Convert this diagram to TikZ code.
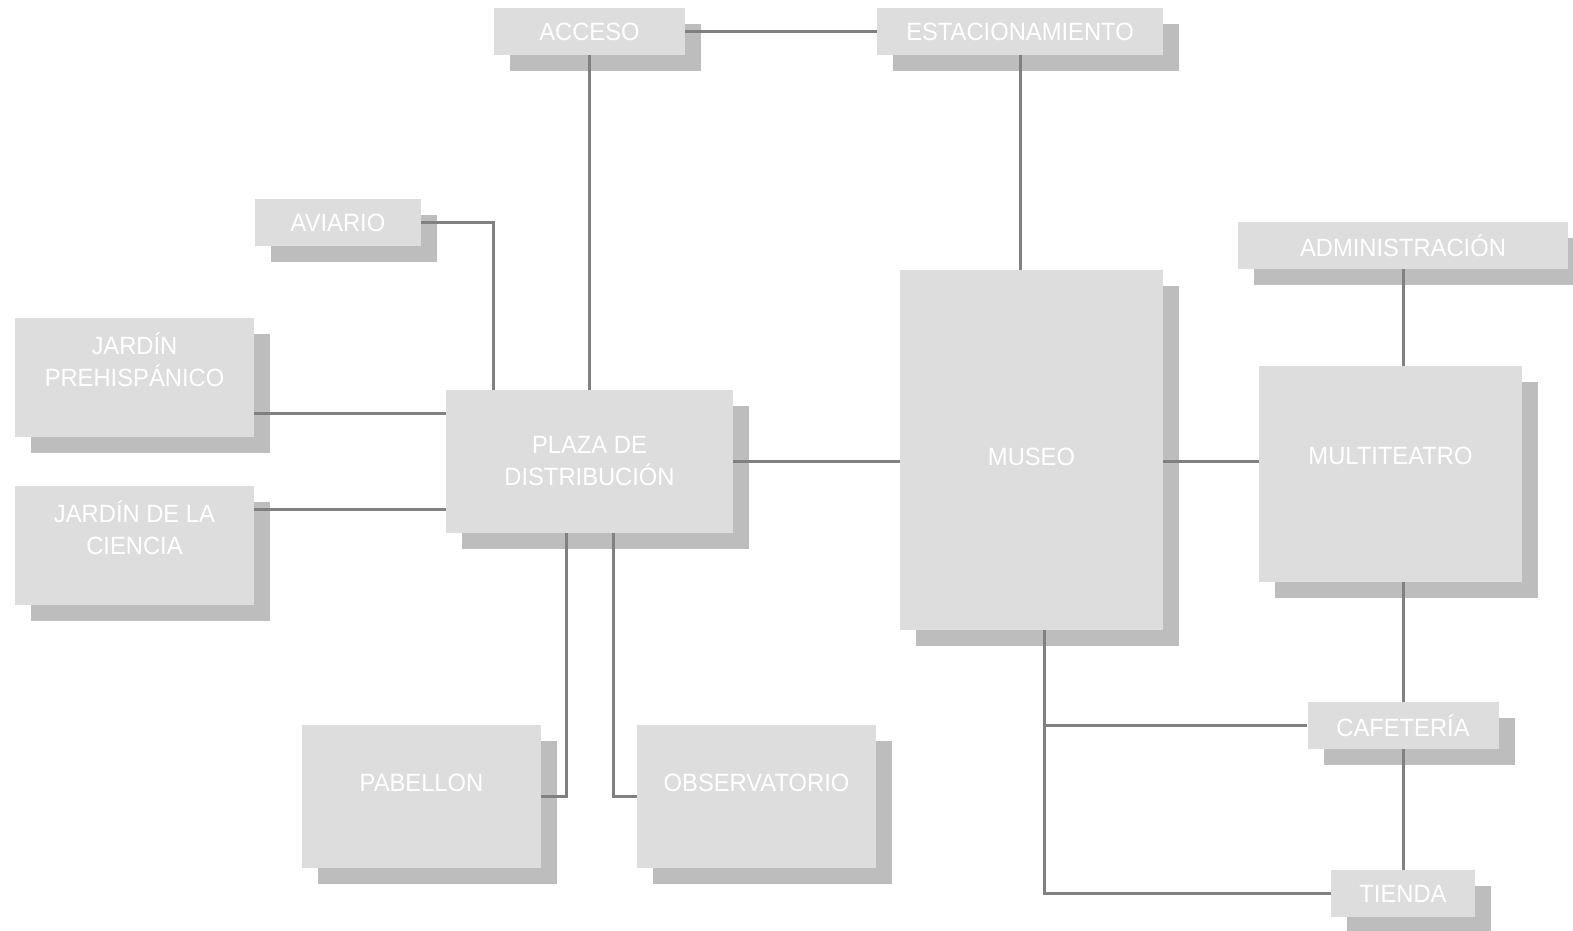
\documentclass[tikz,border=0pt]{standalone}
\usepackage{fontspec}
\usetikzlibrary{%
    positioning,
    shadows
}
\newfontfamily\rotulofont{Liberation Sans}[FakeStretch=0.95]
\definecolor{cajagris}{HTML}{DDDDDD}
\definecolor{sombragris}{HTML}{BDBDBD}
\definecolor{lineagris}{HTML}{808080}
\tikzset{
    bloque/.style={fill=cajagris, inner sep=0pt,
        drop shadow={shadow xshift=16bp, shadow yshift=-16bp, opacity=1, fill=sombragris}},
    rotulo/.style={text=white, align=center,
        font=\rotulofont\fontsize{25bp}{32bp}\selectfont},
    enlace/.style={draw=lineagris, line width=3bp}
}

\begin{document}
\begin{tikzpicture}[x=1bp, y=-1bp]
    \useasboundingbox (0,0) rectangle (1573,930);

    \node (acceso) [bloque, rotulo, minimum width=191bp, minimum height=47bp] at (589.5,31.5) {ACCESO};
    \node (estac)  [bloque, rotulo, minimum width=286bp, minimum height=47bp] at (1020,31.5) {ESTACIONAMIENTO};
    \node (aviario) [bloque, rotulo, minimum width=166bp, minimum height=47bp] at (338,222.5) {AVIARIO};
    \node (jprehisp) [bloque, minimum width=239bp, minimum height=119bp,
        label={[rotulo, yshift=18bp]center:JARDÍN\\PREHISPÁNICO}] at (134.5,377.5) {};
    \node (jciencia) [bloque, minimum width=239bp, minimum height=119bp,
        label={[rotulo, yshift=18bp]center:JARDÍN DE LA\\CIENCIA}] at (134.5,545.5) {};
    \node (plaza) [bloque, rotulo, minimum width=287bp, minimum height=143bp] at (589.5,461.5) {PLAZA DE\\DISTRIBUCIÓN};
    \node (pabellon) [bloque, minimum width=239bp, minimum height=143bp,
        label={[rotulo, yshift=14bp]center:PABELLON}] at (421.5,796.5) {};
    \node (observ) [bloque, minimum width=239bp, minimum height=143bp,
        label={[rotulo, yshift=14bp]center:OBSERVATORIO}] at (756.5,796.5) {};
    \node (museo) [bloque, minimum width=263bp, minimum height=360bp,
        label={[rotulo, yshift=-7bp]center:MUSEO}] at (1031.5,450) {};
    \node (multi) [bloque, minimum width=263bp, minimum height=216bp,
        label={[rotulo, yshift=18bp]center:MULTITEATRO}] at (1390.5,474) {};
    \node (admin) [bloque, rotulo, minimum width=330bp, minimum height=47bp] at (1403,245.5) {ADMINISTRACIÓN};
    \node (cafe)  [bloque, rotulo, minimum width=191bp, minimum height=47bp] at (1403,725.5) {CAFETERÍA};
    \node (tienda) [bloque, rotulo, minimum width=144bp, minimum height=47bp] at (1403,893.5) {TIENDA};

    \coordinate (pn) at ([yshift=48bp]plaza.west);
    \coordinate (ps) at ([yshift=-48bp]plaza.west);
    \coordinate (pa) at ([xshift=-96.5bp]plaza.north);
    \coordinate (pi) at ([xshift=-23.5bp]plaza.south);
    \coordinate (pd) at ([xshift=23.5bp]plaza.south);
    \coordinate (mb) at ([xshift=12.5bp]museo.south);

    \draw[enlace] (acceso.east) -- (estac.west);
    \draw[enlace] (acceso.south) -- (acceso.south |- plaza.north);
    \draw[enlace] (estac.south) -- (estac.south |- museo.north);
    \draw[enlace] (aviario.east) -| (pa);
    \draw[enlace] (pn) -- (pn -| jprehisp.east);
    \draw[enlace] (ps) -- (ps -| jciencia.east);
    \draw[enlace] (pi) |- (pabellon.east);
    \draw[enlace] (pd) |- (observ.west);
    \draw[enlace] (plaza.east) -- (plaza.east -| museo.west);
    \draw[enlace] (plaza.east -| museo.east) -- (plaza.east -| multi.west);
    \draw[enlace] (admin.south) -- (admin.south |- multi.north);
    \draw[enlace] (cafe.north |- multi.south) -- (cafe.north);
    \draw[enlace] (cafe.south) -- (tienda.north);
    \draw[enlace] (mb) |- (tienda.west);
    \draw[enlace] (mb |- cafe.west) -- (cafe.west);
\end{tikzpicture}
\end{document}
